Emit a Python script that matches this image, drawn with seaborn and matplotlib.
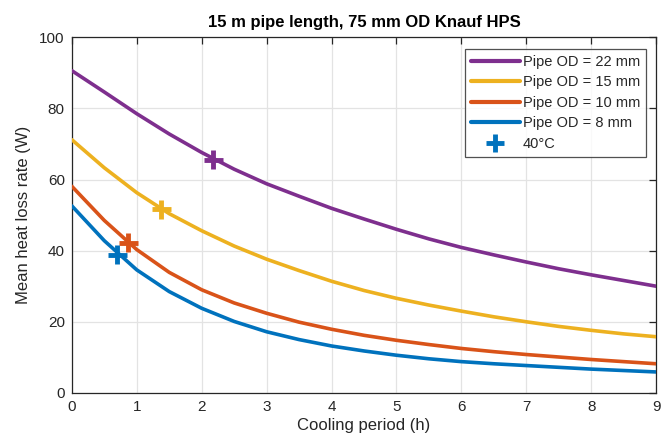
import numpy as np
import pandas as pd
import matplotlib
matplotlib.use("Agg")
import matplotlib.pyplot as plt
from matplotlib.lines import Line2D
import seaborn as sns

# ---- data ----
hours = [0, 0.5, 1, 1.5, 2, 2.5, 3, 3.5, 4, 4.5, 5, 5.5, 6, 6.5, 7, 7.5, 8, 8.5, 9]
od22 = [90.6, 84.6, 78.5, 72.8, 67.6, 62.9, 58.8, 55.3, 51.9, 48.9, 46.0, 43.3, 40.9, 38.8, 36.8, 34.9, 33.2, 31.6, 30.0]
od15 = [71.2, 63.3, 56.3, 50.4, 45.6, 41.3, 37.6, 34.4, 31.4, 28.8, 26.6, 24.7, 23.0, 21.4, 20.0, 18.7, 17.6, 16.6, 15.8]
od10 = [58.1, 48.5, 40.3, 33.9, 29.0, 25.3, 22.4, 19.9, 17.9, 16.2, 14.8, 13.6, 12.5, 11.6, 10.8, 10.1, 9.4, 8.8, 8.2]
od8 = [52.6, 42.8, 34.6, 28.5, 23.8, 20.1, 17.2, 15.0, 13.2, 11.8, 10.6, 9.6, 8.8, 8.2, 7.7, 7.2, 6.7, 6.3, 5.9]
series_labels = ["Pipe OD = 22 mm", "Pipe OD = 15 mm", "Pipe OD = 10 mm", "Pipe OD = 8 mm"]
colors = ["#7E2F8E", "#EDB120", "#D95319", "#0072BD"]

# 40 degC points
pt_x = [2.18, 1.38, 0.87, 0.70]
pt_y = [65.6, 51.6, 42.2, 38.8]
pt_label = "40\u00b0C"

rows = []
for lab, vals in zip(series_labels, [od22, od15, od10, od8]):
    for h, v in zip(hours, vals):
        rows.append({"hours": h, "rate": v, "series": lab})
df = pd.DataFrame(rows)
pts = pd.DataFrame({"hours": pt_x, "rate": pt_y, "series": series_labels})

sns.set_style("white")
plt.rcParams["font.family"] = ["Liberation Sans", "DejaVu Sans"]

fig = plt.figure(figsize=(6.71, 4.43), dpi=100)
ax = fig.add_axes([0.107, 0.113, 0.871, 0.803])

pal = dict(zip(series_labels, colors))
sns.lineplot(data=df, x="hours", y="rate", hue="series", palette=pal,
             linewidth=2.6, ax=ax, legend=False, zorder=3)
sns.scatterplot(data=pts, x="hours", y="rate", hue="series", palette=pal,
                marker="+", s=190, linewidth=3.5, ax=ax, legend=False, zorder=4)

ax.set_xlim(0, 9)
ax.set_ylim(0, 100)
ax.set_xticks(range(0, 10))
ax.set_yticks(range(0, 101, 20))
ax.grid(True, color="#e3e3e3", linewidth=0.9)
ax.set_axisbelow(True)
for s in ax.spines.values():
    s.set_color("#262626")
    s.set_linewidth(0.9)
ax.tick_params(direction="in", top=True, right=True, length=5, width=0.9,
               colors="#262626", labelsize=11, pad=5)
ax.set_xlabel("Cooling period (h)", fontsize=12, color="#262626", labelpad=3)
ax.set_ylabel("Mean heat loss rate (W)", fontsize=12, color="#262626", labelpad=6)
ax.set_title("15 m pipe length, 75 mm OD Knauf HPS", fontsize=12, fontweight="bold",
             color="#000000", pad=7)

handles = [Line2D([], [], color=c, linewidth=3) for c in colors]
handles.append(Line2D([], [], color=colors[3], marker="+", linestyle="none",
                      markersize=13, markeredgewidth=3.5))
leg = ax.legend(handles, series_labels + [pt_label], loc="upper right",
                bbox_to_anchor=(0.983, 0.967), fontsize=10.5, frameon=True,
                fancybox=False, handlelength=3.4, handletextpad=0.2,
                labelspacing=0.45, borderpad=0.4, borderaxespad=0)
leg.get_frame().set_edgecolor("#262626")
leg.get_frame().set_linewidth(0.9)

fig.savefig("out.png", dpi=100)
